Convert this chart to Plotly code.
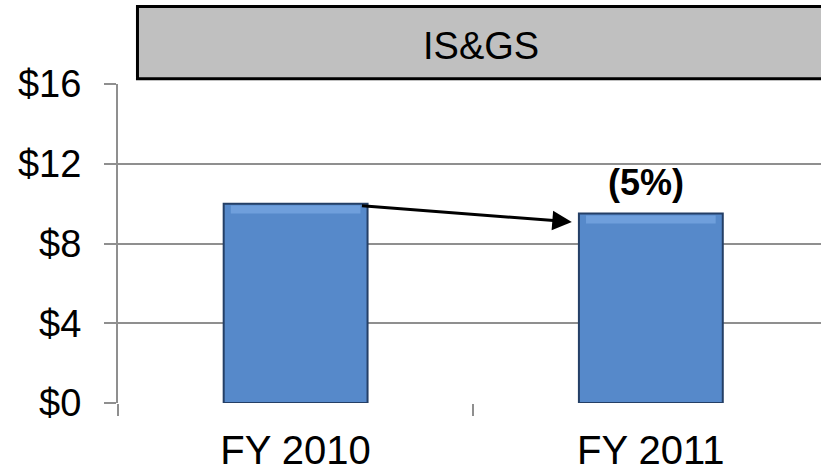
import plotly.graph_objects as go

# data
years = ["FY 2010", "FY 2011"]
revenue = [10.0, 9.5]
y_ticks = [0, 4, 8, 12, 16]
y_tick_text = ["$0", "$4", "$8", "$12", "$16"]
panel_title = "IS&GS"

change = revenue[1] / revenue[0] - 1
change_text = f"({abs(change):.0%})" if change < 0 else f"{change:.0%}"

grid = "#8f8f8f"
bar_w = 0.405

fig = go.Figure()
fig.add_bar(
    x=years,
    y=revenue,
    width=bar_w,
    marker=dict(color="#5689ca", line=dict(color="#243f66", width=2)),
    hoverinfo="x+y",
)
# lighter band along the top edge of each bar (bevel look)
fig.add_bar(
    x=years,
    y=[0.4] * len(revenue),
    base=[v - 0.5 for v in revenue],
    width=bar_w - 0.04,
    marker=dict(color="#6f9fdc", line=dict(width=0)),
    hoverinfo="skip",
)

fig.update_layout(
    width=821,
    height=472,
    margin=dict(l=118, r=0, t=84, b=69, autoexpand=False),
    plot_bgcolor="white",
    paper_bgcolor="white",
    showlegend=False,
    barmode="overlay",
    font=dict(family="Liberation Sans, Arial, sans-serif", color="black"),
    xaxis=dict(
        type="category",
        range=[-0.5, 1.479],
        automargin=False,
        showline=False,
        showgrid=False,
        ticks="outside",
        tickson="boundaries",
        ticklen=12,
        tickwidth=2,
        tickcolor=grid,
        tickfont=dict(size=40),
        ticklabelstandoff=20,
    ),
    yaxis=dict(
        range=[0, 16],
        automargin=False,
        tickvals=y_ticks,
        ticktext=y_tick_text,
        showgrid=True,
        gridcolor=grid,
        gridwidth=2,
        zeroline=False,
        showline=True,
        linecolor=grid,
        linewidth=2,
        ticks="outside",
        ticklen=12,
        tickwidth=2,
        tickcolor=grid,
        tickfont=dict(size=38),
        ticklabelstandoff=15,
    ),
)

# header box
fig.add_shape(
    type="rect", xref="paper", yref="paper",
    x0=0.0277, x1=1.05, y0=1.0167, y1=1.2428,
    fillcolor="#c0c0c0", line=dict(color="black", width=3), layer="above",
)
fig.add_annotation(
    text=panel_title, xref="paper", yref="paper", x=0.517, y=1.12,
    showarrow=False, font=dict(size=38), xanchor="center", yanchor="middle",
)

# change arrow between the bars
fig.add_annotation(
    x=1 - bar_w / 2 - 0.02, y=revenue[1] - 0.42,
    ax=bar_w / 2 - 0.02, ay=revenue[0] - 0.1,
    xref="x", yref="y", axref="x", ayref="y",
    text="", showarrow=True, arrowhead=2, arrowsize=1.3, arrowwidth=3,
    arrowcolor="black",
)
fig.add_annotation(
    x=1, y=revenue[1], xref="x", yref="y", text=f"<b>{change_text}</b>",
    showarrow=False, yanchor="bottom", xshift=-5, yshift=9,
    font=dict(size=36),
)

fig.write_html(
    "out.html",
    config={"displayModeBar": False},
    post_script="document.body.style.margin='0';",
)
